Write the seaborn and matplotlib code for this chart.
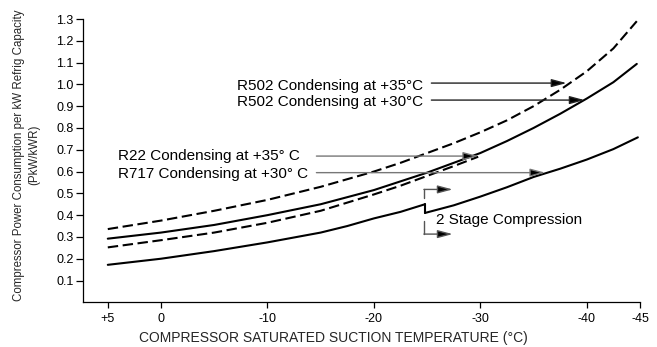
import matplotlib
matplotlib.use("Agg")
import matplotlib.pyplot as plt
import seaborn as sns

# ---- data ----
temps_r502_35 = [5, 0, -5, -10, -15, -20, -22.5, -25, -27.5, -30, -32.5, -35, -37.5, -40, -42.5, -44.7]
vals_r502_35 = [0.336, 0.375, 0.42, 0.47, 0.53, 0.60, 0.64, 0.685, 0.73, 0.78, 0.835, 0.90, 0.975, 1.06, 1.165, 1.29]

temps_r502_30 = [5, 0, -5, -10, -15, -20, -22.5, -25, -27.5, -30, -32.5, -35, -37.5, -40, -42.5, -44.7]
vals_r502_30 = [0.292, 0.32, 0.355, 0.40, 0.45, 0.515, 0.555, 0.595, 0.64, 0.685, 0.74, 0.80, 0.865, 0.935, 1.01, 1.094]

temps_r22_35 = [5, 0, -5, -10, -15, -20, -22.5, -25, -27.5, -29.8]
vals_r22_35 = [0.252, 0.285, 0.32, 0.365, 0.42, 0.495, 0.535, 0.58, 0.625, 0.668]

temps_r717_single = [5, 0, -5, -10, -15, -17.5, -20, -22.5, -24.8]
vals_r717_single = [0.172, 0.20, 0.235, 0.275, 0.32, 0.35, 0.385, 0.415, 0.45]

temps_r717_two = [-24.8, -27.5, -30, -32.5, -35, -37.5, -40, -42.5, -44.8]
vals_r717_two = [0.41, 0.445, 0.485, 0.528, 0.575, 0.613, 0.655, 0.703, 0.757]

x_ticks = [5, 0, -10, -20, -30, -40, -45]
x_tick_labels = ["+5", "0", "-10", "-20", "-30", "-40", "-45"]
y_ticks = [0.1, 0.2, 0.3, 0.4, 0.5, 0.6, 0.7, 0.8, 0.9, 1.0, 1.1, 1.2, 1.3]
y_tick_labels = ["0.1", "0.2", "0.3", "0.4", "0.5", "0.6", "0.7", "0.8", "0.9", "1.0", "1.1", "1.2", "1.3"]

labels = [
    "R502 Condensing at +35°C",
    "R502 Condensing at +30°C",
    "R22 Condensing at +35° C",
    "R717 Condensing at +30° C",
    "2 Stage Compression",
]

sns.set_style("ticks")
plt.rcParams["font.family"] = ["Liberation Sans", "DejaVu Sans"]

fig, ax = plt.subplots(figsize=(6.57, 3.47), dpi=100)
fig.subplots_adjust(left=0.1268, right=0.9741, bottom=0.1288, top=0.9452)

dash = (0, (5, 2.2))
series = [
    (temps_r502_35, vals_r502_35, dash),
    (temps_r502_30, vals_r502_30, "-"),
    (temps_r22_35, vals_r22_35, dash),
    (temps_r717_single, vals_r717_single, "-"),
    (temps_r717_two, vals_r717_two, "-"),
]
for t, v, ls in series:
    sns.lineplot(x=t, y=v, ax=ax, color="black", linewidth=1.5,
                 linestyle=ls, estimator=None, sort=False)

# step connector at 2-stage changeover
ax.plot([temps_r717_single[-1], temps_r717_two[0]],
        [vals_r717_single[-1], vals_r717_two[0]], color="black", lw=1.5)

ax.set_xlim(7.3, -45)
ax.set_ylim(0, 1.3)
ax.set_xticks(x_ticks)
ax.set_xticklabels(x_tick_labels)
ax.set_yticks(y_ticks)
ax.set_yticklabels(y_tick_labels)
ax.tick_params(axis="both", labelsize=9, colors="black", width=0.9)
ax.tick_params(axis="y", length=5, pad=2)
ax.tick_params(axis="x", length=4, pad=4)
sns.despine(ax=ax)
for s in ("left", "bottom"):
    ax.spines[s].set_color("black")
    ax.spines[s].set_linewidth(0.9)

ax.set_xlabel("COMPRESSOR SATURATED SUCTION TEMPERATURE (°C)", fontsize=10)
ax.xaxis.set_label_coords(0.45, -0.126)
ax.xaxis.label.set_va("center")
ax.set_ylabel("Compressor Power Consumption per kW Refrig Capacity\n(PkW/kWR)",
              fontsize=8.3, linespacing=1.35)
ax.yaxis.set_label_coords(-0.102, 0.52)
ax.yaxis.label.set_va("center")

txt = dict(fontsize=11, color="black", va="center")
ax.text(-24.6, 0.992, labels[0], ha="right", **txt)
ax.text(-24.6, 0.917, labels[1], ha="right", **txt)
ax.text(4.0, 0.671, labels[2], ha="left", **txt)
ax.text(4.0, 0.590, labels[3], ha="left", **txt)
ax.text(-25.8, 0.379, labels[4], ha="left", **txt)

def arrow(x0, x1, y, ec):
    ax.annotate("", xy=(x1, y), xytext=(x0, y),
                arrowprops=dict(arrowstyle="-|>,head_length=0.75,head_width=0.2",
                                mutation_scale=12, edgecolor=ec, facecolor="black",
                                lw=1.0, shrinkA=0, shrinkB=0))

arrow(-25.4, -38.1, 1.006, "#222222")
arrow(-25.4, -39.8, 0.928, "#222222")
arrow(-14.6, -29.8, 0.671, "#777777")
arrow(-14.6, -36.1, 0.595, "#777777")

# 2-stage bracket
ax.plot([-24.7, -24.7], [0.48, 0.518], color="#555555", lw=1.0)
ax.plot([-24.7, -24.7], [0.372, 0.313], color="#555555", lw=1.0)
arrow(-24.7, -27.4, 0.518, "#555555")
arrow(-24.7, -27.4, 0.313, "#555555")

fig.savefig("out.png", dpi=100)
